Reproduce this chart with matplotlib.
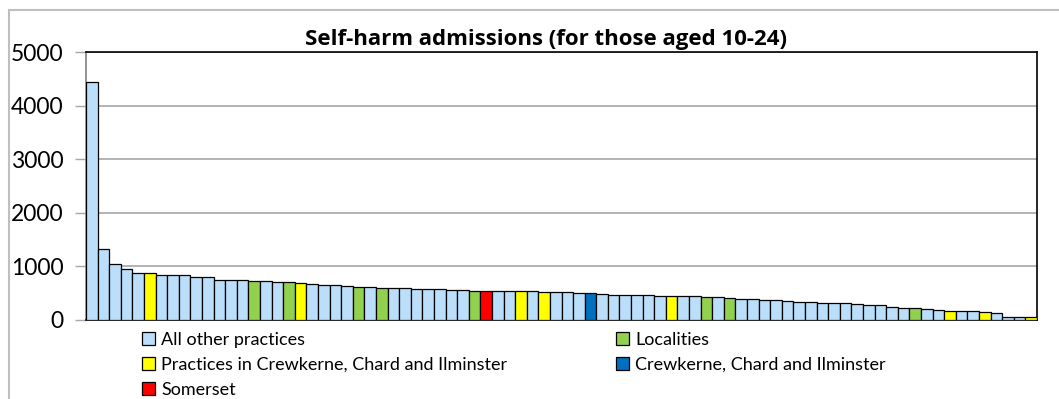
import matplotlib
matplotlib.use('Agg')
import matplotlib.pyplot as plt
from matplotlib.patches import Patch
from matplotlib.lines import Line2D

plt.rcParams['font.family'] = ['Lato', 'DejaVu Sans']

# category of each bar, left to right
# a = all other practices, p = practices in CCI, l = localities,
# c = Crewkerne, Chard and Ilminster, s = Somerset
groups = list(
    'aaaaapaaaaaaaalaalpaaaalal'
    'aaaaaaalsaapapaaaca'
    'aaaaapaalalaaaaaaaaaaaaaaalaapaapaaap'
)
values = [
    4440, 1332, 1045, 950, 881, 869, 838, 838, 838, 800,
    794, 756, 756, 738, 731, 725, 706, 706, 688, 675,
    650, 650, 631, 613, 613, 600, 600, 594, 582, 575,
    575, 569, 569, 550, 550, 550, 538, 538, 538, 531,
    531, 525, 507, 500, 482, 463, 463, 463, 463, 444,
    444, 444, 444, 432, 432, 406, 394, 394, 381, 369,
    356, 344, 331, 325, 325, 313, 300, 275, 275, 250,
    231, 231, 213, 194, 175, 163, 163, 150, 131, 63,
    63, 50,
]

colours = {'a': '#BBDFFB', 'p': '#FFFF00', 'l': '#92D050',
           'c': '#0070C0', 's': '#FF0000'}
labels = {'a': 'All other practices',
          'p': 'Practices in Crewkerne, Chard and Ilminster',
          's': 'Somerset',
          'l': 'Localities',
          'c': 'Crewkerne, Chard and Ilminster'}

fig = plt.figure(figsize=(10.59, 3.99), dpi=100)
ax = fig.add_axes([86 / 1059, 1 - 320 / 399, (1037 - 86) / 1059, (320 - 52.3) / 399])

x = range(len(values))
ax.bar(x, values, width=1.0, color=[colours[g] for g in groups],
       edgecolor='black', linewidth=0.9, zorder=3)

ax.set_xlim(-0.5, len(values) - 0.5)
ax.set_ylim(0, 5000)
ax.set_yticks([0, 1000, 2000, 3000, 4000, 5000])
ax.set_xticks([])
ax.yaxis.grid(True, color='#A6A6A6', linewidth=1.2, zorder=0)
ax.tick_params(axis='y', labelsize=16.5, length=8, width=1, color='#A6A6A6', pad=8)
for side in ['top', 'right', 'bottom']:
    ax.spines[side].set_color('black')
    ax.spines[side].set_linewidth(1.2)
ax.spines['left'].set_color('#808080')
ax.spines['left'].set_linewidth(1.2)

fig.text(546 / 1059, 1 - 39 / 399, 'Self-harm admissions (for those aged 10-24)',
         ha='center', va='center', fontsize=16, fontweight='bold',
         family=['Open Sans', 'DejaVu Sans'])

# legend in two columns, like the original
def handle(k):
    return Patch(facecolor=colours[k], edgecolor='black', linewidth=0.9)

leg_kw = dict(loc='upper left', frameon=False, fontsize=13, handlelength=0.7,
              handleheight=0.7, handletextpad=0.35, labelspacing=0.5,
              borderpad=0, borderaxespad=0)
fig.legend([handle(k) for k in 'aps'], [labels[k] for k in 'aps'],
           bbox_to_anchor=(142 / 1059, 1 - 332 / 399), **leg_kw)
fig.legend([handle(k) for k in 'lc'], [labels[k] for k in 'lc'],
           bbox_to_anchor=(616 / 1059, 1 - 332 / 399), **leg_kw)

# outer chart border
fig.add_artist(Line2D([8.5 / 1059, 1], [1 - 9.5 / 399] * 2, color='#BFBFBF', lw=1.5))
fig.add_artist(Line2D([8.5 / 1059] * 2, [0, 1 - 9.5 / 399], color='#BFBFBF', lw=1.5))

fig.savefig('out.png', dpi=100)
